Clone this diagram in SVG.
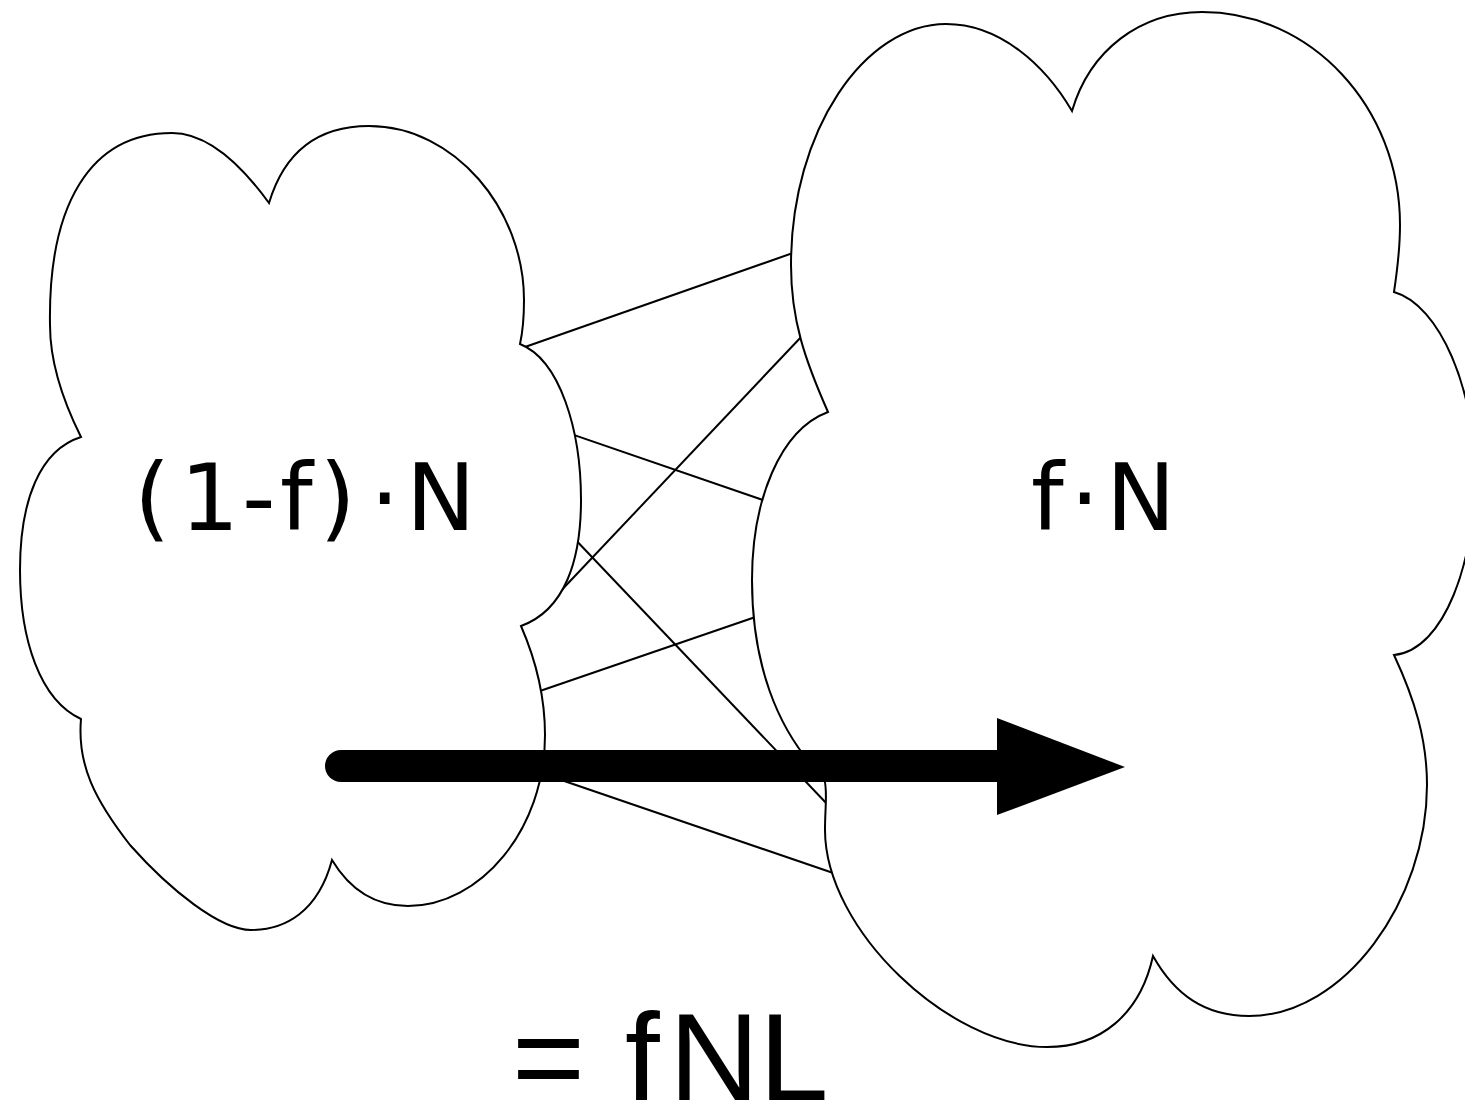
<svg xmlns="http://www.w3.org/2000/svg" width="1465" height="1106" viewBox="0 0 1465 1106">
  <style>
    .cloud { fill: #ffffff; stroke: #000000; stroke-width: 2; stroke-linejoin: miter; }
    .link { stroke: #000000; stroke-width: 2; fill: none; }
    .lbl { font-family: "DejaVu Sans", Verdana, sans-serif; font-size: 93px; fill: #000000; }
    .eq { font-family: "Liberation Sans", Arial, sans-serif; font-size: 125px; fill: #000000; }
  </style>
  <rect x="0" y="0" width="1465" height="1106" fill="#ffffff"/>

  <g id="connectors">
    <line class="link" x1="520" y1="348.8" x2="800" y2="250.5"/>
    <line class="link" x1="803" y1="335" x2="556" y2="596"/>
    <line class="link" x1="570" y1="433.6" x2="767" y2="501.4"/>
    <line class="link" x1="571" y1="535" x2="828" y2="805"/>
    <line class="link" x1="537" y1="692" x2="762" y2="614.7"/>
    <line class="link" x1="535" y1="771" x2="842" y2="876"/>
  </g>

  <g id="cloud-left">
    <path class="cloud" d="M81,437 C60,395 50,360 50,325 C48,205 90,133 172,133 C210,133 245,170 269,203 C285,150 320,126 369,126 C455,126 524,210 524,300 C524,320 522,335 520,344 C560,360 581,430 581,500 C581,560 565,610 521,626 C538,665 545,700 545,735 C545,830 480,906 408,906 C375,906 350,890 332,860 C318,912 285,930 251,930 C220,930 170,890 130,845 C95,800 77,765 81,719 C40,700 20,640 20,570 C20,500 40,450 81,437 Z"/>
    <text class="lbl" x="134 180 242 280 319.5 370 406" y="530">(1-f)·N</text>
  </g>

  <g id="cloud-right">
    <path class="cloud" d="M828,412 C805,360 791,320 791,265 C791,130 865,24 946,24 C1000,24 1045,65 1072,111 C1090,50 1140,12 1202,12 C1311,12 1400,107 1400,225 C1400,250 1397,272 1394,292 C1440,305 1475,390 1475,475 C1475,560 1445,650 1394,655 C1415,700 1427,740 1427,785 C1427,900 1345,1016 1249,1016 C1205,1016 1175,995 1153,956 C1140,1015 1100,1047 1047,1047 C950,1047 825,930 825,830 C825,805 828,790 824,778 C775,730 752,660 752,580 C752,500 780,430 828,412 Z"/>
    <text class="lbl" x="1031 1070 1106" y="530">f·N</text>
  </g>

  <g id="arrow">
    <line x1="341" y1="766" x2="1000" y2="766" stroke="#000000" stroke-width="32" stroke-linecap="round"/>
    <polygon points="997,718 1125,767 997,815" fill="#000000"/>
  </g>

  <g id="label-fnl">
    <text class="eq" x="512 590 625 669 759" y="1100">= fNL</text>
  </g>
</svg>
